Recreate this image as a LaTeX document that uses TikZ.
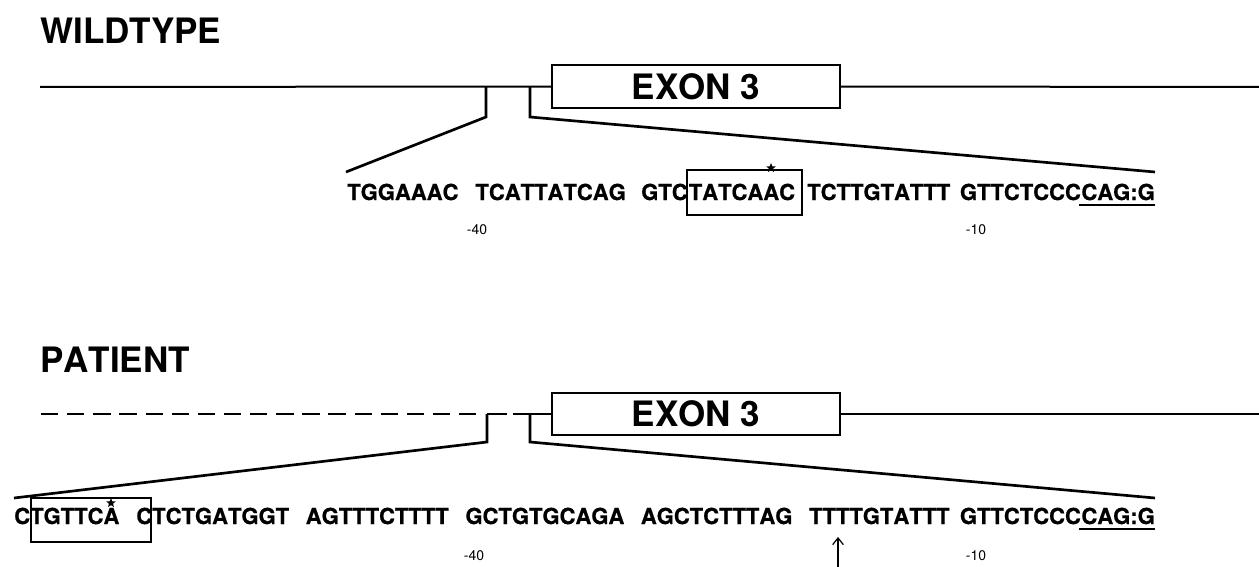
\documentclass[tikz,border=0pt]{standalone}
\usepackage{fontspec}
\setmainfont{TeX Gyre Heros}[Kerning=Off]
\newfontfamily\seqfont{TeX Gyre Heros}[Kerning=Off,BoldFeatures={FakeBold=0.7}]
\usetikzlibrary{shapes.geometric,arrows.meta}

\begin{document}
\begin{tikzpicture}[x=0.75pt,y=0.75pt,yscale=-1,xscale=1,
  gene/.style={line width=1.5pt},
  zoomline/.style={line width=2pt,line join=miter},
  seqbox/.style={line width=0.9pt},
  title/.style={anchor=base west,inner sep=0pt,font=\fontsize{26.25}{30}\selectfont\bfseries},
  exon/.style={draw,line width=1.3pt,inner sep=0pt,minimum width=216pt,minimum height=31.8pt,text depth=0pt,font=\fontsize{26.25}{30}\selectfont\bfseries},
  seq/.style={anchor=base west,inner sep=0pt,font=\seqfont\fontsize{16.5}{19}\selectfont\bfseries},
  seqend/.style={seq,anchor=base east},
  posnum/.style={inner sep=0pt,font=\fontsize{10.5}{12}\selectfont},
  sitestar/.style={star,star points=5,star point ratio=2.3,fill,inner sep=0pt,minimum size=7.5pt}]
\useasboundingbox (0,0) rectangle (1259,567);

%%%%%%%%%%%%%%%% wildtype
\node [title] (wtitle) at (40,44) {WILDTYPE};
\node [exon] (wexon) at (696,86.5) {EXON 3};
\coordinate (wstart) at (40,87);
\coordinate (wend) at (1259,87);
\coordinate (wdropl) at (486,87);
\coordinate (wdropr) at (530,87);
% gene line
\draw [gene] (wstart) -- (wexon.west);
\draw [gene] (wexon.east) -- (wend);
% zoom lines
\draw [zoomline] (wdropl) -- ++(0,30) -- (346,172);
\draw [zoomline] (wdropr) -- ++(0,30) -- (1155,172);

% sequence
\node [seq] (w1) at (347,200) {TGGAAAC};
\node [seq] (w2) at (475.2,200) {TCATTATCAG};
\node [seq] (w3) at (641,200) {GTC};
\node [seq] (w4) at (688.5,200) {TATCAAC};
\node [seq] (w5) at (807,200) {TCTTGTATTT};
\node [seqend] (wcag) at (1155,200) {CAG:G};
\node [seqend] (w6) at (wcag.base west) {GTTCTCCC};
\draw [seqbox] (687,170) rectangle (802,215);
\node [sitestar] (wstar) at (771,168) {};
\draw [line width=1.5pt] ([xshift=-1.5pt,yshift=3.5pt]wcag.base west) -- ([yshift=3.5pt]wcag.base east);
% Text Node
\node [posnum] (w40) at (477,230) {-40};
% Text Node
\node [posnum] (w10) at (976,230) {-10};

%%%%%%%%%%%%%%%% patient
\node [title] (ptitle) at (40,372) {PATIENT};
\node [exon] (pexon) at (696,414) {EXON 3};
\coordinate (pstart) at (41,414);
\coordinate (pend) at (1259,414);
\coordinate (pdropl) at (487,414);
\coordinate (pdropr) at (530,414);
\coordinate (pgap) at (510,414);
% gene line, deleted part dashed
\draw [gene,dash pattern=on 13pt off 6.6pt] (pstart) -- (480,414);
\draw [gene] (pdropl) -- ([xshift=-2.25pt]pgap);
\draw [gene] ([xshift=2.25pt]pgap) -- (pexon.west);
\draw [gene] (pexon.east) -- (pend);
% zoom lines
\draw [zoomline] (pdropl) -- ++(0,28) -- (14,498);
\draw [zoomline] (pdropr) -- ++(0,28) -- (1155,498);

% sequence
\node [seq] (p1) at (14,524) {CTGTTCA};
\node [seq] (p2) at (136.1,524) {CTCTGATGGT};
\node [seq] (p3) at (305.5,524) {AGTTTCTTTT};
\node [seq] (p4) at (465.2,524) {GCTGTGCAGA};
\node [seq] (p5) at (640.6,524) {AGCTCTTTAG};
\node [seq] (p6) at (808.8,524) {TTTTGTATTT};
\node [seqend] (pcag) at (1155,524) {CAG:G};
\node [seqend] (p7) at (pcag.base west) {GTTCTCCC};
\draw [seqbox] (31,498) rectangle (151,542);
\node [sitestar] (pstar) at (111,503) {};
\draw [line width=1.5pt] ([xshift=-1.5pt,yshift=3.5pt]pcag.base west) -- ([yshift=3.5pt]pcag.base east);
% Text Node
\node [posnum] (p40) at (474,556) {-40};
% Text Node
\node [posnum] (p10) at (976,556) {-10};
% mutation site
\coordinate (arrbot) at (838,567);
\draw [line width=0.9pt,-{Straight Barb[length=5pt,width=8pt]}] (arrbot) -- (838,537);

\end{tikzpicture}
\end{document}
